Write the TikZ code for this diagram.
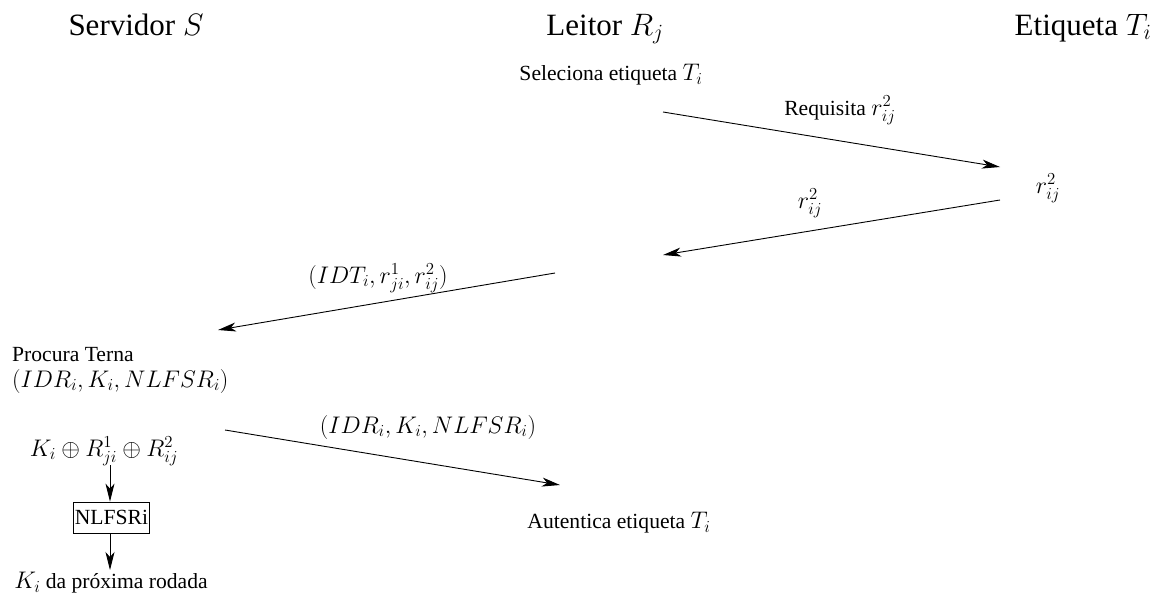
\RequirePackage{fix-cm}
\documentclass[tikz,border=0pt]{standalone}
\usepackage[no-math]{fontspec}
\setmainfont{Liberation Serif}[Scale=0.9]
\newfontfamily\hdrfont{Liberation Serif}
\usetikzlibrary{arrows.meta}
\tikzset{
  hdr/.style={font=\hdrfont\fontsize{31}{37}\selectfont, inner sep=0pt, anchor=base},
  txt/.style={font=\fontsize{24}{28}\selectfont, inner sep=0pt},
  msg/.style={line width=0.9pt, -{Stealth[length=18pt,width=9pt,inset=5pt]}},
  boxn/.style={draw, line width=0.8pt, font=\fontsize{24}{28}\selectfont, minimum width=73pt, minimum height=31pt, inner sep=1pt}
}
\begin{document}
\begin{tikzpicture}[x=1pt,y=-1pt]
\useasboundingbox (0,0) rectangle (1160,597);
% headers
\node[hdr] (srv) at (136,35) {Servidor $S$};
\node[hdr] (lei) at (605,35) {Leitor $R_j$};
\node[hdr] (eti) at (1083,35) {Etiqueta $T_i$};
% texts
\node[txt] (sel) at (611,75) {Seleciona etiqueta $T_i$};
\node[txt] (rt) at (1048,188) {$r^2_{ij}$};
\node[txt, anchor=west] (proc) at (12,355) {Procura Terna};
\node[txt, anchor=west] (tern) at (12,381) {$(IDR_i,K_i,NLFSR_i)$};
\node[txt] (aut) at (619,523) {Autentica etiqueta $T_i$};
\node[txt] (xor) at (104,451) {$K_i\oplus R^1_{ji}\oplus R^2_{ij}$};
\node[boxn] (nl) at (111.5,517.5) {NLFSRi};
\node[txt] (kn) at (111,583) {$K_i$ da próxima rodada};
% arrow endpoints
\coordinate (a1s) at (663,112);
\coordinate (a1e) at (1000,167);
\coordinate (a2s) at (1000,200);
\coordinate (a2e) at (663,255);
\coordinate (a3s) at (555,273);
\coordinate (a3e) at (218,330);
\coordinate (a4s) at (225,430);
\coordinate (a4e) at (560,485);
\coordinate (v1s) at (110,465);
\coordinate (v2e) at (110,570);
% messages
\draw[msg] (a1s) -- (a1e);
\draw[msg] (a2s) -- (a2e);
\draw[msg] (a3s) -- (a3e);
\draw[msg] (a4s) -- (a4e);
\draw[msg] (v1s) -- (v1s |- nl.north);
\draw[msg] (v1s |- nl.south) -- (v2e);
% labels
\node[txt] (l1) at (840,110) {Requisita $r^2_{ij}$};
\node[txt] (l2) at (810,203) {$r^2_{ij}$};
\node[txt] (l3) at (378,278) {$(IDT_i,r^1_{ji},r^2_{ij})$};
\node[txt] (l4) at (428,427) {$(IDR_i,K_i,NLFSR_i)$};
\end{tikzpicture}
\end{document}
